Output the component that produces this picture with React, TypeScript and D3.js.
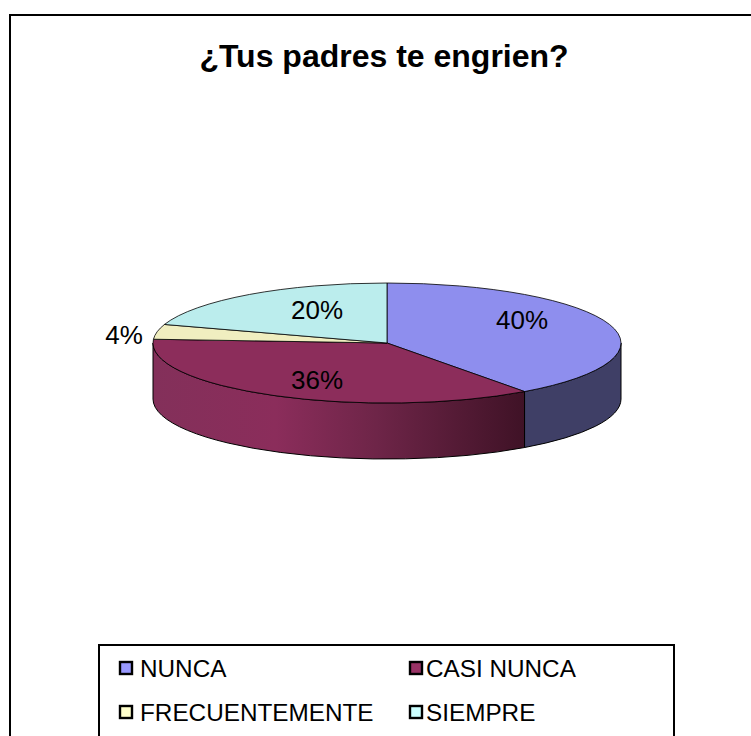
import React from "react";
import * as d3 from "d3";

const categories = ["NUNCA", "CASI NUNCA", "FRECUENTEMENTE", "SIEMPRE"];
const values = [40, 36, 4, 20];
const topColors = ["#8e8eee", "#8c2d5b", "#f0eec0", "#bbeded"];
const legendColors = ["#9999ff", "#993366", "#ffffcc", "#ccffff"];
const labels = ["40%", "36%", "4%", "20%"];
const title = "¿Tus padres te engrien?";

const W = 751, H = 736;
const cx = 387, cy = 343, rx = 234, ry = 60, depth = 56;
const font = "'Liberation Sans', Arial, sans-serif";

const pie = d3.pie<number>().sort(null)(values);
const X = (a: number) => cx + rx * Math.sin(a);
const Y = (a: number) => cy - ry * Math.cos(a);

function slicePath(a0: number, a1: number) {
  const large = a1 - a0 > Math.PI ? 1 : 0;
  return `M${cx},${cy}L${X(a0)},${Y(a0)}A${rx},${ry} 0 ${large} 1 ${X(a1)},${Y(a1)}Z`;
}
function sidePath(a0: number, a1: number) {
  const s = Math.max(a0, Math.PI / 2), e = Math.min(a1, 1.5 * Math.PI);
  return `M${X(s)},${Y(s)}A${rx},${ry} 0 0 1 ${X(e)},${Y(e)}L${X(e)},${Y(e) + depth}A${rx},${ry} 0 0 0 ${X(s)},${Y(s) + depth}Z`;
}

const labelPos: [number, number][] = [[522, 320], [317, 380], [124, 335], [317, 310]];
const swatchPos: [number, number][] = [[120, 668], [410, 668], [120, 712], [410, 712]];
const textX = [140, 426, 140, 426];

export default function App() {
  return (
    <svg width={W} height={H} style={{ position: "absolute", left: 0, top: 0, background: "#fff" }}>
      <defs>
        <linearGradient id="maroonSide" gradientUnits="userSpaceOnUse" x1={153} x2={525} y1={0} y2={0}>
          <stop offset="0" stopColor="#83305a" />
          <stop offset="0.33" stopColor="#8b2d5b" />
          <stop offset="0.6" stopColor="#6e2548" />
          <stop offset="1" stopColor="#3f1226" />
        </linearGradient>
      </defs>
      <rect x={10} y={15} width={760} height={760} fill="#fff" stroke="#000" strokeWidth={2} />
      <text x={384} y={67} textAnchor="middle" fontFamily={font} fontWeight="bold" fontSize={32} fill="#000">{title}</text>

      <path d={sidePath(pie[0].startAngle, pie[0].endAngle)} fill="#3f3f66" stroke="#000" strokeWidth={1} />
      <path d={sidePath(pie[1].startAngle, pie[1].endAngle)} fill="url(#maroonSide)" stroke="#000" strokeWidth={1} />
      {pie.map((d, i) => (
        <path key={i} d={slicePath(d.startAngle, d.endAngle)} fill={topColors[i]} stroke="#000" strokeWidth={0.8} />
      ))}
      {labels.map((t, i) => (
        <text key={i} x={labelPos[i][0]} y={labelPos[i][1]} dy="0.35em" textAnchor="middle" fontFamily={font} fontSize={26} fill="#000">{t}</text>
      ))}

      <rect x={99} y={645} width={575} height={100} fill="#fff" stroke="#000" strokeWidth={2} />
      {categories.map((c, i) => (
        <g key={c}>
          <rect x={swatchPos[i][0]} y={swatchPos[i][1] - 6} width={12} height={12} fill={legendColors[i]} stroke="#000" strokeWidth={2.4} />
          <text x={textX[i]} y={swatchPos[i][1]} dy="0.36em" fontFamily={font} fontSize={24.3} fill="#000">{c}</text>
        </g>
      ))}
    </svg>
  );
}
